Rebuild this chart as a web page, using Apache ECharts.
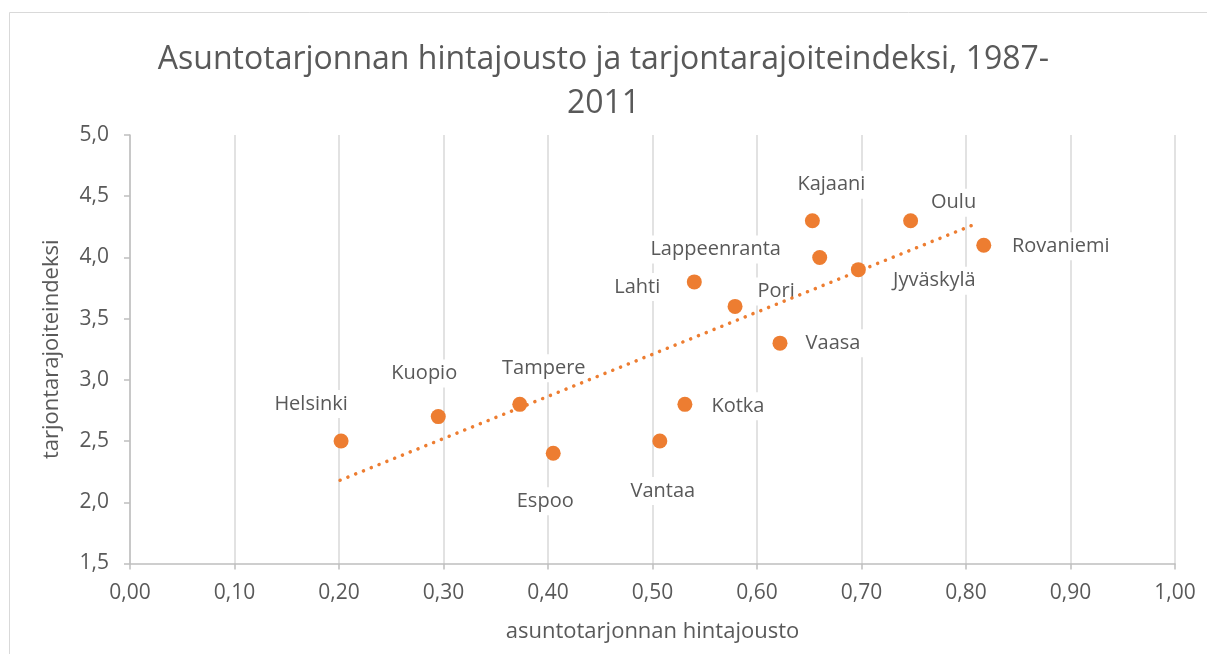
<!DOCTYPE html>
<html>
<head>
<meta charset="utf-8">
<script src="https://cdn.jsdelivr.net/npm/echarts@6/dist/echarts.min.js"></script>
<style>html,body{margin:0;padding:0;background:#fff}#c{width:1207px;height:654px}</style>
</head>
<body>
<div id="c"></div>
<script>
const cities = ['Helsinki','Kuopio','Tampere','Espoo','Vantaa','Kotka','Lahti','Pori','Vaasa','Kajaani','Lappeenranta','Jyväskylä','Oulu','Rovaniemi'];
const hintajousto = [0.202,0.295,0.373,0.405,0.507,0.531,0.540,0.579,0.622,0.653,0.660,0.697,0.747,0.817];
const rajoite = [2.5,2.7,2.8,2.4,2.5,2.8,3.8,3.6,3.3,4.3,4.0,3.9,4.3,4.1];
const trendX = [0.201,0.811];
const trendY = [2.18,4.28];
const xTicks = ['0,00','0,10','0,20','0,30','0,40','0,50','0,60','0,70','0,80','0,90','1,00'];
const yTicks = ['1,5','2,0','2,5','3,0','3,5','4,0','4,5','5,0'];

// label placement relative to the marker (layout only)
const labelOffsets = {
  'Helsinki':[-30,-37],'Kuopio':[-14,-43],'Tampere':[24,-36],'Espoo':[-8,48],
  'Vantaa':[3,50],'Kotka':[53,2],'Lahti':[-57,5],'Pori':[41,-15],'Vaasa':[53,0],
  'Kajaani':[19,-36],'Lappeenranta':[-104,-8],'Jyväskylä':[76,11],'Oulu':[43,-18],'Rovaniemi':[77,1]
};

const FONT = '"Open Sans", sans-serif';
const TXT = '#595959';
const ORANGE = '#ED7D31';
const SYM = 15;

const points = cities.map((c,i)=>({
  value:[hintajousto[i], rajoite[i]],
  name:c,
  label:{position:[SYM/2+labelOffsets[c][0], SYM/2+labelOffsets[c][1]]}
}));

const chart = echarts.init(document.getElementById('c'), null, {renderer:'canvas'});
chart.setOption({
  animation:false,
  backgroundColor:'#fff',
  graphic:[{type:'rect',shape:{x:9.5,y:12.5,width:1300,height:800},style:{fill:'none',stroke:'#d9d9d9',lineWidth:1},silent:true,z:-1}],
  title:{
    text:'Asuntotarjonnan hintajousto ja tarjontarajoiteindeksi, 1987-\n2011',
    left:'center', top:33,
    textStyle:{fontFamily:FONT,fontSize:32,fontWeight:'normal',color:TXT,lineHeight:44}
  },
  grid:{left:130,right:32,top:135,bottom:90.5},
  xAxis:{
    type:'value',min:0,max:1,interval:0.1,
    name:'asuntotarjonnan hintajousto',nameLocation:'middle',nameGap:57,
    nameTextStyle:{fontFamily:FONT,fontSize:22,color:TXT},
    axisLine:{show:true,lineStyle:{color:'#bfbfbf',width:1.5}},
    axisTick:{show:true,length:6,lineStyle:{color:'#bfbfbf',width:1.5}},
    axisLabel:{fontFamily:FONT,fontSize:21,color:TXT,margin:19,formatter:(v)=>xTicks[Math.round(v*10)]},
    splitLine:{show:true,lineStyle:{color:'#d9d9d9',width:1.5}}
  },
  yAxis:{
    type:'value',min:1.5,max:5,interval:0.5,
    name:'tarjontarajoiteindeksi',nameLocation:'middle',nameGap:67,
    nameTextStyle:{fontFamily:FONT,fontSize:22,color:TXT},
    axisLine:{show:true,lineStyle:{color:'#bfbfbf',width:1.5}},
    axisTick:{show:true,length:6,lineStyle:{color:'#bfbfbf',width:1.5}},
    axisLabel:{fontFamily:FONT,fontSize:21,color:TXT,margin:21,formatter:(v)=>yTicks[Math.round((v-1.5)*2)]},
    splitLine:{show:false}
  },
  series:[
    {
      type:'scatter',data:points,symbol:'circle',symbolSize:SYM,z:4,
      itemStyle:{color:ORANGE,opacity:1},
      label:{show:true,formatter:(p)=>p.name,
        fontFamily:FONT,fontSize:20,color:TXT,backgroundColor:'#fff',padding:[4,4],
        align:'center',verticalAlign:'middle'},
      labelLayout:{hideOverlap:false}
    },
    {
      type:'line',data:trendX.map((x,i)=>[x,trendY[i]]),symbol:'none',silent:true,z:6,
      lineStyle:{color:ORANGE,width:3.5,type:[0.1,8.3],cap:'round'}
    }
  ]
});
</script>
</body>
</html>
